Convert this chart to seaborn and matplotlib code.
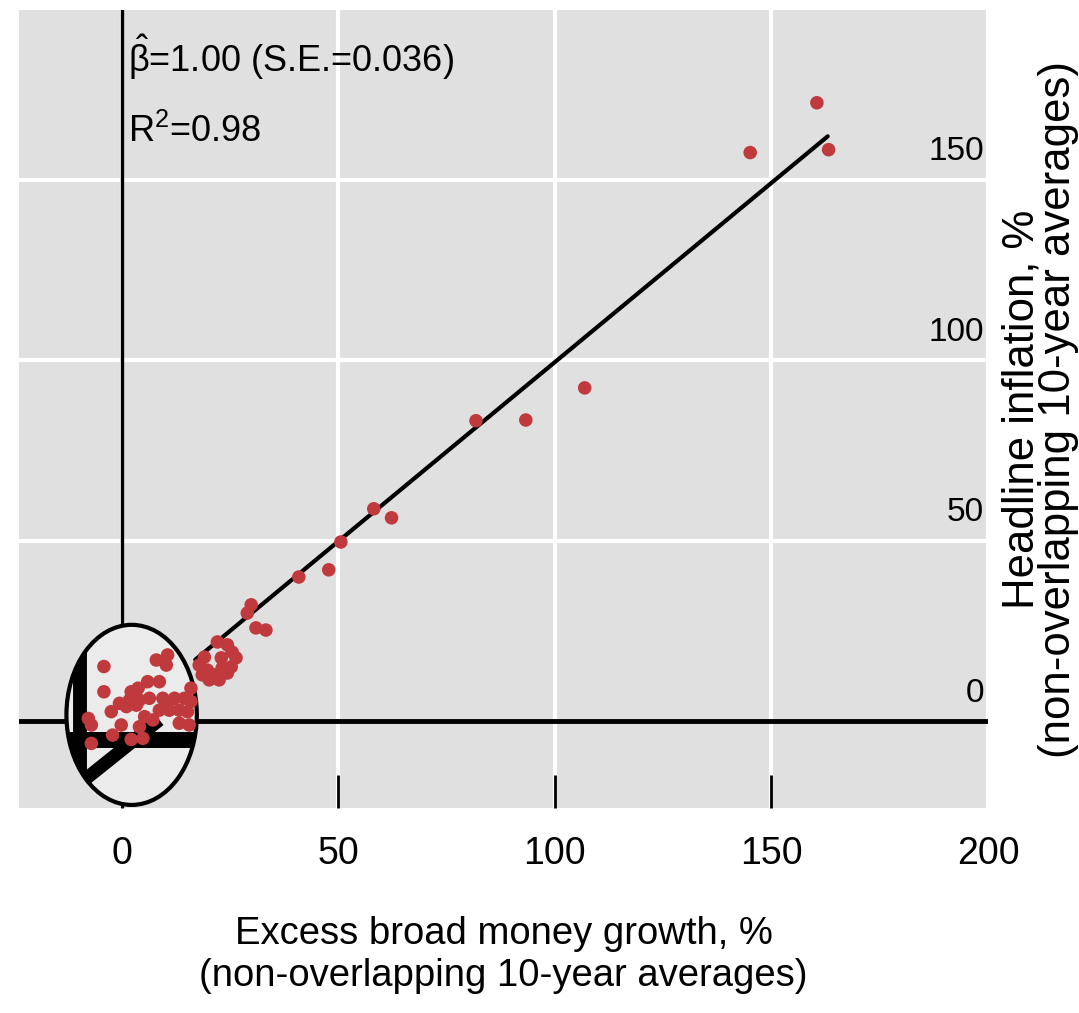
import matplotlib
matplotlib.use("Agg")
import matplotlib.pyplot as plt
from matplotlib.patches import Ellipse
import seaborn as sns
import pandas as pd

# Data (non-overlapping 10-year averages, %)
money_growth = [
    -4.1, -4.1, -7.7, -7.0, -7.0, -2.4, -2.1, -0.1, 1.1, 2.2, 3.8, 3.4, 2.2, 4.1,
    5.3, 6.0, 6.4, 8.0, 8.7, 9.5, 10.3, 10.6, 8.7, 11.0, 12.2, 13.3, 14.5, 15.2,
    15.6, 13.3, 16.0, 7.2, 4.9, -0.5, 4.1, 16.0, 1.8, 10.3,
    29.9, 29.0, 31.0, 33.3, 22.1, 24.4, 25.5, 26.4, 19.1, 17.9, 18.6, 19.8, 23.0,
    23.2, 25.3, 24.4, 22.5, 21.4, 20.2,
    40.9, 47.8, 50.6, 58.2, 62.3, 81.8, 93.3, 106.9, 145.1, 160.5, 163.2,
]
inflation = [
    15.1, 8.1, 0.7, -1.1, -6.2, 2.6, -3.9, -1.1, 4.0, 8.1, 9.1, 4.4, -5.1, -1.6,
    1.2, 10.9, 6.3, 16.9, 10.9, 6.3, 15.5, 18.3, 3.0, 3.0, 6.3, 3.0, 6.3, 2.6,
    -1.1, -0.6, 9.1, 0.3, -4.8, 4.9, 5.8, 5.4, 5.8, 4.4,
    32.2, 29.9, 25.8, 25.2, 21.9, 21.1, 19.1, 17.5, 17.7, 15.5, 12.8, 14.1, 17.5,
    14.7, 15.0, 13.3, 11.4, 12.8, 11.4,
    39.9, 41.9, 49.6, 58.8, 56.3, 83.2, 83.4, 92.3, 157.5, 171.3, 158.3,
]

# fitted line end points
fit_x = [17, 163]
fit_y = [17, 162]

# magnified inset (circle) details
zoom_center = (2.3, 1.7)
zoom_size = (30.1, 49.9)
zoom_vert_x = [-9.6, -9.6]
zoom_vert_y = [-30, 30]
zoom_horiz_x = [-12, 25]
zoom_horiz_y = [-5.3, -5.3]
zoom_diag_x = [-14, 8.7]
zoom_diag_y = [-21.5, 0.3]

x_ticks = [0, 50, 100, 150, 200]
y_ticks = [0, 50, 100, 150]

df = pd.DataFrame({"money": money_growth, "inflation": inflation})

sns.set_theme(style="darkgrid")
plt.rcParams["font.family"] = ["Liberation Sans", "DejaVu Sans"]
plt.rcParams["mathtext.fontset"] = "custom"
plt.rcParams["mathtext.rm"] = "Liberation Sans"
plt.rcParams["mathtext.it"] = "Liberation Sans"
plt.rcParams["mathtext.bf"] = "Liberation Sans:bold"
plt.rcParams["text.color"] = "black"
plt.rcParams["xtick.color"] = "black"
plt.rcParams["axes.labelcolor"] = "black"

fig = plt.figure(figsize=(10.79, 10.13), dpi=100)
ax = fig.add_axes([19 / 1079, 205 / 1013, 969 / 1079, 798 / 1013])
ax.set_facecolor("#e0e0e0")
for s in ax.spines.values():
    s.set_visible(False)

ax.set_xlim(-23.7, 200)
ax.set_ylim(-24.1, 197)

ax.set_xticks(x_ticks)
ax.set_xticklabels([str(t) for t in x_ticks])
ax.set_yticks([50, 100, 150])
ax.set_yticklabels([])
ax.grid(True, color="white", linewidth=3)
ax.tick_params(axis="x", direction="in", length=24, width=2, color="black",
               pad=20, labelsize=27, bottom=True)
ax.tick_params(axis="y", left=False, right=False)
ax.xaxis.get_major_ticks()[-1].tick1line.set_visible(False)

# axes through zero
ax.axhline(0, color="black", linewidth=3.5, zorder=2)
ax.axvline(0, color="black", linewidth=2.4, zorder=2)

# y labels sitting above the gridlines, inside the plot
for v in y_ticks:
    ax.annotate(str(v), xy=(1, v), xycoords=("axes fraction", "data"),
                xytext=(-3, 9), textcoords="offset points",
                ha="right", va="bottom", fontsize=24)

# magnified circle
circle = Ellipse(zoom_center, zoom_size[0], zoom_size[1], facecolor="#ebebeb",
                 edgecolor="black", linewidth=3, zorder=3)
ax.add_patch(circle)
for xs, ys, lw in [(zoom_vert_x, zoom_vert_y, 10), (zoom_horiz_x, zoom_horiz_y, 11.5),
                   (zoom_diag_x, zoom_diag_y, 9.5)]:
    ln, = ax.plot(xs, ys, color="black", linewidth=lw, solid_capstyle="butt", zorder=3.5)
    ln.set_clip_path(circle)

# regression line
ax.plot(fit_x, fit_y, color="black", linewidth=3, zorder=4)

sns.scatterplot(data=df, x="money", y="inflation", color="#c0393c", s=95,
                edgecolor="none", ax=ax, zorder=5)

ax.set_xlabel("Excess broad money growth, %\n(non-overlapping 10-year averages)",
              fontsize=27.5, labelpad=32, linespacing=1.2)
ax.set_ylabel("")

ax.text(1.0535, 0.5, "Headline inflation, %\n(non-overlapping 10-year averages)",
        transform=ax.transAxes, rotation=90, ha="center", va="center",
        fontsize=31.5, linespacing=0.86)

# regression statistics
ax.text(1.5, 179.9, r"$\hat{\beta}$=1.00 (S.E.=0.036)", fontsize=26,
        ha="left", va="baseline")
ax.text(1.5, 160.5, r"R$^2$=0.98", fontsize=26, ha="left", va="baseline")

fig.savefig("out.png", dpi=100)
